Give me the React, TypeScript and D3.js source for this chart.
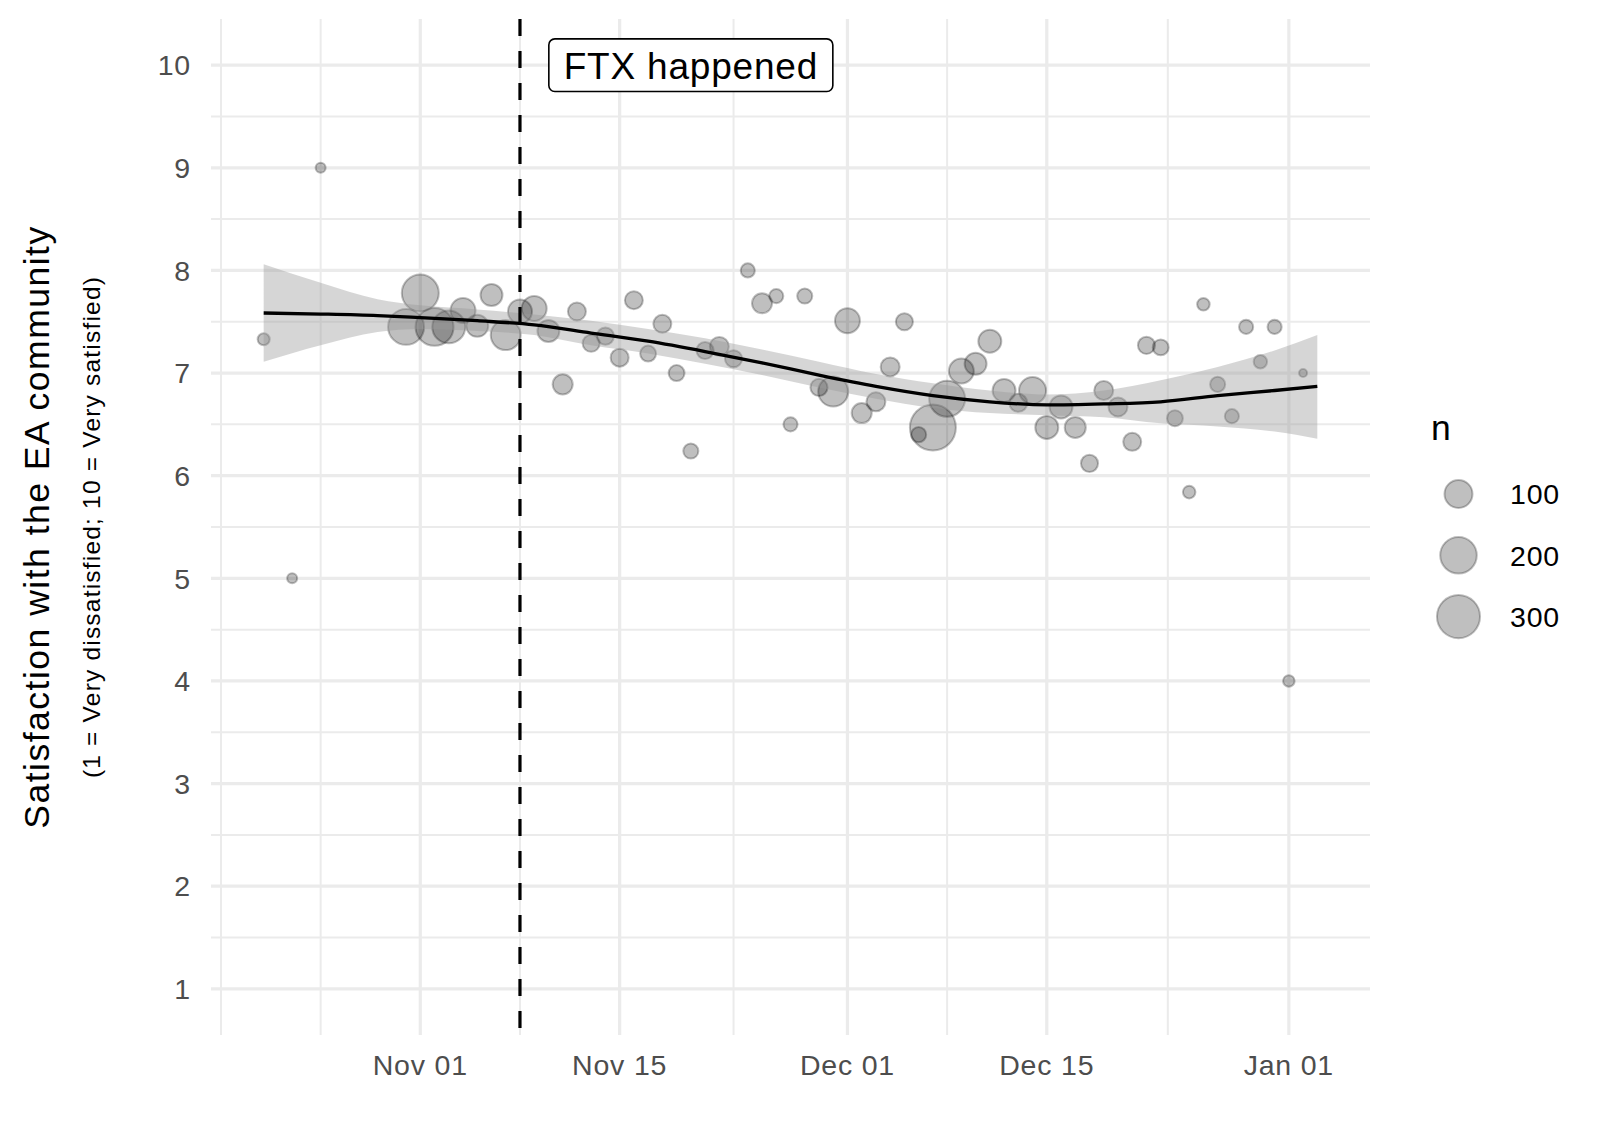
import * as d3 from "d3";
import { useEffect, useRef } from "react";

// daily survey responses
const responseDates = [
  "2022-10-21", "2022-10-23", "2022-10-25", "2022-10-31", "2022-11-01", "2022-11-02",
  "2022-11-03", "2022-11-04", "2022-11-05", "2022-11-06", "2022-11-07", "2022-11-08",
  "2022-11-09", "2022-11-10", "2022-11-11", "2022-11-12", "2022-11-13", "2022-11-14",
  "2022-11-15", "2022-11-16", "2022-11-17", "2022-11-18", "2022-11-19", "2022-11-20",
  "2022-11-21", "2022-11-22", "2022-11-23", "2022-11-24", "2022-11-25", "2022-11-26",
  "2022-11-27", "2022-11-28", "2022-11-29", "2022-11-30", "2022-12-01", "2022-12-02",
  "2022-12-03", "2022-12-04", "2022-12-05", "2022-12-06", "2022-12-07", "2022-12-08",
  "2022-12-09", "2022-12-10", "2022-12-11", "2022-12-12", "2022-12-13", "2022-12-14",
  "2022-12-15", "2022-12-16", "2022-12-17", "2022-12-18", "2022-12-19", "2022-12-20",
  "2022-12-21", "2022-12-22", "2022-12-23", "2022-12-24", "2022-12-25", "2022-12-26",
  "2022-12-27", "2022-12-28", "2022-12-29", "2022-12-30", "2022-12-31", "2023-01-01",
  "2023-01-02",
];
const meanSatisfaction = [
  7.33, 5.0, 9.0, 7.45, 7.78, 7.45, 7.45, 7.61, 7.46, 7.76, 7.37, 7.6,
  7.63, 7.41, 6.89, 7.6, 7.29, 7.36, 7.15, 7.71, 7.19, 7.48, 7.0, 6.24,
  7.22, 7.26, 7.14, 8.0, 7.68, 7.75, 6.5, 7.75, 6.86, 6.82, 7.51, 6.61,
  6.72, 7.06, 7.5, 6.4, 6.47, 6.75, 7.02, 7.09, 7.31, 6.83, 6.71, 6.83,
  6.47, 6.67, 6.47, 6.12, 6.83, 6.67, 6.33, 7.27, 7.25, 6.56, 5.84, 7.67,
  6.89, 6.58, 7.45, 7.11, 7.45, 4.0, 7.0,
];
const respondents = [
  8, 5, 5, 192, 206, 220, 154, 73, 51, 51, 120, 66,
  73, 51, 39, 28, 24, 24, 28, 28, 19, 28, 19, 16,
  24, 33, 24, 13, 39, 13, 13, 16, 24, 120, 73, 39,
  33, 33, 24, 16, 351, 192, 73, 51, 58, 58, 28, 91,
  58, 58, 45, 24, 33, 33, 28, 24, 19, 19, 9, 9,
  16, 13, 13, 11, 13, 7, 4,
];

// loess fit with confidence band
const smoothDates = [
  "2022-10-21", "2022-10-25", "2022-10-29", "2022-11-01", "2022-11-05", "2022-11-09",
  "2022-11-13", "2022-11-17", "2022-11-21", "2022-11-25", "2022-11-29", "2022-12-03",
  "2022-12-07", "2022-12-11", "2022-12-15", "2022-12-19", "2022-12-23", "2022-12-27",
  "2022-12-31", "2023-01-03",
];
const smoothFit = [
  7.585, 7.575, 7.56, 7.54, 7.51, 7.47, 7.39, 7.31, 7.21, 7.1, 6.98, 6.87,
  6.78, 6.72, 6.69, 6.7, 6.72, 6.78, 6.83, 6.87,
];
const smoothUpper = [
  8.06, 7.88, 7.72, 7.66, 7.62, 7.57, 7.51, 7.43, 7.34, 7.23, 7.11, 6.99,
  6.9, 6.83, 6.79, 6.83, 6.93, 7.06, 7.22, 7.37,
];
const smoothLower = [
  7.11, 7.27, 7.4, 7.43, 7.41, 7.37, 7.27, 7.19, 7.09, 6.98, 6.86, 6.75,
  6.66, 6.61, 6.59, 6.57, 6.51, 6.48, 6.43, 6.36,
];

const yTicks = [1, 2, 3, 4, 5, 6, 7, 8, 9, 10];
const yMinorTicks = [1.5, 2.5, 3.5, 4.5, 5.5, 6.5, 7.5, 8.5, 9.5];
const xTicks = ["2022-11-01", "2022-11-15", "2022-12-01", "2022-12-15", "2023-01-01"];
const xTickLabels = ["Nov 01", "Nov 15", "Dec 01", "Dec 15", "Jan 01"];
const xMinorTicks = [
  "2022-10-18", "2022-10-25", "2022-11-08", "2022-11-23", "2022-12-08", "2022-12-23T12:00",
];
const ftxDate = "2022-11-08";
const ftxLabelDate = "2022-11-20";
const ftxLabel = "FTX happened";
const legendBreaks = [100, 200, 300];

const FONT = "'Liberation Sans', Arial, Helvetica, sans-serif";

const parseDay = (s: string) =>
  d3.utcParse("%Y-%m-%d")(s) || (d3.utcParse("%Y-%m-%dT%H:%M")(s) as Date);

const App = () => {
  const svgRef = useRef<SVGSVGElement>(null);

  useEffect(() => {
    const svg = d3.select(svgRef.current);
    svg.selectAll("*").remove();

    const panel = { left: 211, right: 1370, top: 19, bottom: 1035 };

    const points = responseDates.map((d, i) => ({
      date: parseDay(d),
      value: meanSatisfaction[i],
      n: respondents[i],
    }));
    const smooth = smoothDates.map((d, i) => ({
      date: parseDay(d),
      fit: smoothFit[i],
      lo: smoothLower[i],
      hi: smoothUpper[i],
    }));

    // ggplot-like 5% expansion
    const [d0, d1] = d3.extent(smooth, (d) => d.date) as [Date, Date];
    const pad = (d1.getTime() - d0.getTime()) * 0.05;
    const x = d3
      .scaleUtc()
      .domain([new Date(d0.getTime() - pad), new Date(d1.getTime() + pad)])
      .range([panel.left, panel.right]);
    const y = d3
      .scaleLinear()
      .domain([1 - 0.45, 10 + 0.45])
      .range([panel.bottom, panel.top]);

    const nMin = d3.min(respondents) as number;
    const nMax = d3.max(respondents) as number;
    const rScale = d3.scaleLinear().domain([0, 1]).range([5, 24]);
    const radius = (n: number) =>
      rScale(Math.sqrt(Math.max(0, n - nMin) / (nMax - nMin)));

    const g = svg.append("g");

    // grid
    g.selectAll(".ymin")
      .data(yMinorTicks)
      .enter()
      .append("line")
      .attr("x1", panel.left)
      .attr("x2", panel.right)
      .attr("y1", (d) => y(d))
      .attr("y2", (d) => y(d))
      .attr("stroke", "#ebebeb")
      .attr("stroke-width", 2);
    g.selectAll(".xmin")
      .data(xMinorTicks)
      .enter()
      .append("line")
      .attr("x1", (d) => x(parseDay(d)))
      .attr("x2", (d) => x(parseDay(d)))
      .attr("y1", panel.top)
      .attr("y2", panel.bottom)
      .attr("stroke", "#ebebeb")
      .attr("stroke-width", 2);
    g.selectAll(".ymaj")
      .data(yTicks)
      .enter()
      .append("line")
      .attr("x1", panel.left)
      .attr("x2", panel.right)
      .attr("y1", (d) => y(d))
      .attr("y2", (d) => y(d))
      .attr("stroke", "#ebebeb")
      .attr("stroke-width", 3.2);
    g.selectAll(".xmaj")
      .data(xTicks)
      .enter()
      .append("line")
      .attr("x1", (d) => x(parseDay(d)))
      .attr("x2", (d) => x(parseDay(d)))
      .attr("y1", panel.top)
      .attr("y2", panel.bottom)
      .attr("stroke", "#ebebeb")
      .attr("stroke-width", 3.2);

    // axis labels
    g.selectAll(".ylab")
      .data(yTicks)
      .enter()
      .append("text")
      .attr("x", 191)
      .attr("y", (d) => y(d))
      .attr("dy", "0.36em")
      .attr("text-anchor", "end")
      .style("font-family", FONT)
      .style("font-size", "28.5px")
      .style("letter-spacing", "0.8px")
      .style("fill", "#4d4d4d")
      .text((d) => d);
    g.selectAll(".xlab")
      .data(xTicks)
      .enter()
      .append("text")
      .attr("x", (d) => x(parseDay(d)))
      .attr("y", 1075)
      .attr("text-anchor", "middle")
      .style("font-family", FONT)
      .style("font-size", "28.5px")
      .style("letter-spacing", "0.8px")
      .style("fill", "#4d4d4d")
      .text((d, i) => xTickLabels[i]);

    // axis title
    const midY = (panel.top + panel.bottom) / 2;
    g.append("text")
      .attr("transform", `translate(49,${midY}) rotate(-90)`)
      .attr("text-anchor", "middle")
      .style("font-family", FONT)
      .style("font-size", "35.5px")
      .style("letter-spacing", "1.5px")
      .style("fill", "#000")
      .text("Satisfaction with the EA community");
    g.append("text")
      .attr("transform", `translate(100,${midY}) rotate(-90)`)
      .attr("text-anchor", "middle")
      .style("font-family", FONT)
      .style("font-size", "24.5px")
      .style("letter-spacing", "1.2px")
      .style("fill", "#000")
      .text("(1 = Very dissatisfied; 10 = Very satisfied)");

    // points
    g.selectAll(".pt")
      .data(points)
      .enter()
      .append("circle")
      .attr("cx", (d) => x(d.date))
      .attr("cy", (d) => y(d.value))
      .attr("r", (d) => radius(d.n) - 1)
      .attr("fill", "#000")
      .attr("fill-opacity", 0.25)
      .attr("stroke", "#000")
      .attr("stroke-opacity", 0.25)
      .attr("stroke-width", 2);

    // smoother
    const band = d3
      .area<(typeof smooth)[number]>()
      .x((d) => x(d.date))
      .y0((d) => y(d.lo))
      .y1((d) => y(d.hi))
      .curve(d3.curveMonotoneX);
    g.append("path")
      .datum(smooth)
      .attr("d", band)
      .attr("fill", "#999999")
      .attr("fill-opacity", 0.4);
    const line = d3
      .line<(typeof smooth)[number]>()
      .x((d) => x(d.date))
      .y((d) => y(d.fit))
      .curve(d3.curveMonotoneX);
    g.append("path")
      .datum(smooth)
      .attr("d", line)
      .attr("fill", "none")
      .attr("stroke", "#000")
      .attr("stroke-width", 3.3);

    // FTX marker
    const fx = x(parseDay(ftxDate));
    g.append("line")
      .attr("x1", fx)
      .attr("x2", fx)
      .attr("y1", panel.top)
      .attr("y2", panel.bottom)
      .attr("stroke", "#000")
      .attr("stroke-width", 3.2)
      .attr("stroke-dasharray", "17,15");

    const lx = x(parseDay(ftxLabelDate));
    const ly = y(10);
    const label = g.append("g").attr("transform", `translate(${lx},${ly})`);
    label
      .append("rect")
      .attr("x", -142)
      .attr("y", -26.3)
      .attr("width", 284)
      .attr("height", 52.6)
      .attr("rx", 6)
      .attr("fill", "#fff")
      .attr("stroke", "#000")
      .attr("stroke-width", 1.6);
    label
      .append("text")
      .attr("text-anchor", "middle")
      .attr("dy", "0.36em")
      .style("font-family", FONT)
      .style("font-size", "37px")
      .style("letter-spacing", "0.8px")
      .style("fill", "#000")
      .text(ftxLabel);

    // legend
    const legend = g.append("g");
    legend
      .append("text")
      .attr("x", 1431)
      .attr("y", 440)
      .style("font-family", FONT)
      .style("font-size", "35.5px")
      .style("fill", "#000")
      .text("n");
    const items = legend
      .selectAll(".leg")
      .data(legendBreaks)
      .enter()
      .append("g")
      .attr("transform", (d, i) => `translate(0,${494 + i * 61.3})`);
    items
      .append("circle")
      .attr("cx", 1458.5)
      .attr("cy", 0)
      .attr("r", (d) => radius(d) - 1)
      .attr("fill", "#000")
      .attr("fill-opacity", 0.25)
      .attr("stroke", "#000")
      .attr("stroke-opacity", 0.25)
      .attr("stroke-width", 2);
    items
      .append("text")
      .attr("x", 1510)
      .attr("y", 0)
      .attr("dy", "0.36em")
      .style("font-family", FONT)
      .style("font-size", "28.5px")
      .style("letter-spacing", "0.8px")
      .style("fill", "#000")
      .text((d) => d);
  }, []);

  return (
    <div style={{ position: "absolute", left: 0, top: 0, background: "#fff" }}>
      <svg ref={svgRef} width={1600} height={1148} style={{ display: "block" }} />
    </div>
  );
};

export default App;
